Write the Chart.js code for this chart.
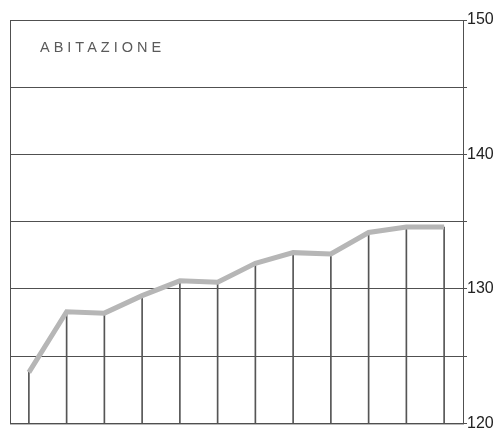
<!DOCTYPE html>
<html>
<head>
<meta charset="utf-8">
<script src="https://cdn.jsdelivr.net/npm/chart.js@4/dist/chart.umd.min.js"></script>
<style>
  html, body { margin: 0; padding: 0; background: #fff; }
  #wrap { width: 503px; height: 433px; position: relative; }
</style>
</head>
<body>
<div id="wrap"><canvas id="chart"></canvas></div>
<script>
// Data
const months = ["gen", "feb", "mar", "apr", "mag", "giu", "lug", "ago", "set", "ott", "nov", "dic"];
const abitazione = [123.8, 128.3, 128.2, 129.5, 130.6, 130.5, 131.9, 132.7, 132.6, 134.2, 134.6, 134.6];
const yTicks = [120, 130, 140, 150];
const chartTitle = "ABITAZIONE";

const gridColor = "#505050";

// Frame round the plot and the title inside it
const framePlugin = {
  id: "frame",
  beforeDatasetsDraw(chart) {
    const { ctx, chartArea } = chart;
    ctx.save();
    ctx.strokeStyle = gridColor;
    ctx.lineWidth = 1;
    ctx.strokeRect(chartArea.left + 0.5, chartArea.top + 0.5,
      chartArea.right - chartArea.left, chartArea.bottom - chartArea.top);
    ctx.fillStyle = "#5a5a5a";
    ctx.font = "14.5px 'Liberation Sans', Arial, sans-serif";
    ctx.letterSpacing = "4px";
    ctx.textBaseline = "middle";
    ctx.fillText(chartTitle, chartArea.left + 30, chartArea.top + 28);
    ctx.restore();
  },
};

new Chart(document.getElementById("chart"), {
  data: {
    labels: months,
    datasets: [
      {
        type: "line",
        label: chartTitle,
        data: abitazione,
        borderColor: "#b6b6b6",
        borderWidth: 5,
        pointRadius: 0,
        tension: 0,
        order: 0,
      },
      {
        type: "bar",
        label: "drop",
        data: abitazione,
        backgroundColor: "#555",
        barThickness: 1,
        order: 1,
      },
    ],
  },
  options: {
    responsive: true,
    maintainAspectRatio: false,
    animation: false,
    layout: { padding: { left: 10, top: 20, bottom: 9, right: 0 } },
    plugins: {
      legend: { display: false },
      tooltip: { enabled: false },
    },
    scales: {
      x: {
        display: false,
        offset: true,
      },
      y: {
        position: "right",
        min: 120,
        max: 150,
        afterFit: (scale) => { scale.width = 40; },
        grid: {
          color: gridColor,
          lineWidth: 1,
          tickLength: 4,
          drawTicks: true,
        },
        border: { display: true, color: gridColor },
        ticks: {
          stepSize: 5,
          padding: 0,
          color: "#222",
          font: { size: 16, family: "'Liberation Sans', Arial, sans-serif" },
          callback: (v) => (yTicks.includes(v) ? v : ""),
        },
      },
    },
  },
  plugins: [framePlugin],
});
</script>
</body>
</html>
